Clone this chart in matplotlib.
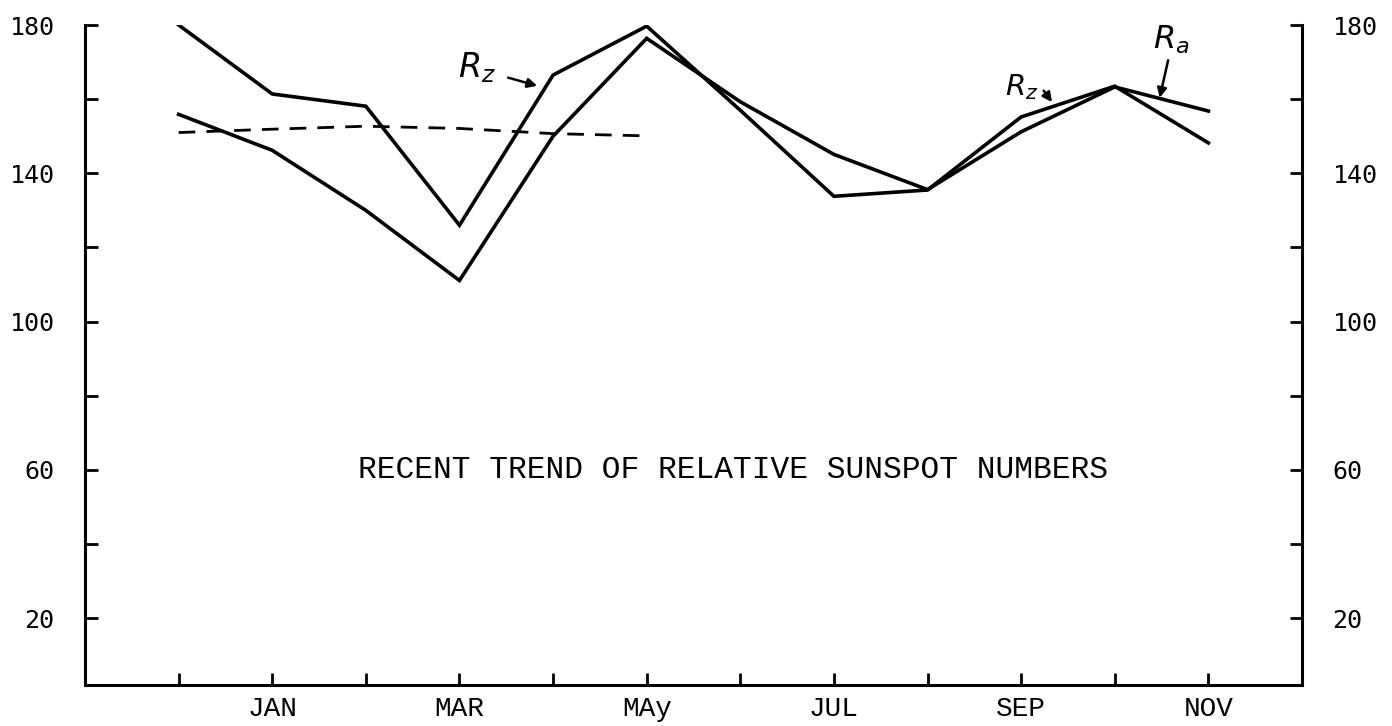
import matplotlib
matplotlib.use("Agg")
import matplotlib.pyplot as plt

# ---- data ----
months = ["DEC", "JAN", "FEB", "MAR", "APR", "MAY", "JUN", "JUL", "AUG", "SEP", "OCT", "NOV"]
month_labels = ["", "JAN", "", "MAR", "", "MAy", "", "JUL", "", "SEP", "", "NOV"]
rz = [180.0, 161.4, 158.1, 126.0, 166.5, 179.7, 157.0, 133.8, 135.5, 155.2, 163.5, 148.2]
ra = [155.9, 146.2, 130.0, 111.1, 150.0, 176.4, 159.3, 145.1, 135.6, 151.2, 163.3, 156.8]
smooth_months = ["DEC", "JAN", "FEB", "MAR", "APR", "MAY"]
smooth = [151.0, 151.9, 152.7, 152.1, 150.7, 150.1]
ytick_vals = [20, 40, 60, 80, 100, 120, 140, 160, 180]
ytick_labels = ["20", "", "60", "", "100", "", "140", "", "180"]
title = "RECENT TREND OF RELATIVE SUNSPOT NUMBERS"

x = list(range(len(months)))
xs = list(range(len(smooth_months)))

fig = plt.figure(figsize=(13.92, 7.26), dpi=100)
ax = fig.add_axes([85/1392, 1 - 685/726, (1302-85)/1392, (685-25)/726])

lw = 2.6
ax.plot(x, rz, color="black", lw=lw, solid_joinstyle="miter")
ax.plot(x, ra, color="black", lw=lw, solid_joinstyle="miter")
ax.plot(xs, smooth, color="black", lw=2.0, linestyle=(0, (6, 4)))

ax.set_xlim(-1, 12)
ax.set_ylim(2, 180)

ax.spines["top"].set_visible(False)
for s in ["left", "right", "bottom"]:
    ax.spines[s].set_linewidth(2.2)

ax.set_xticks(x)
ax.set_xticklabels(month_labels, fontfamily="Liberation Mono", fontsize=20)
ax.set_yticks(ytick_vals)
ax.set_yticklabels(ytick_labels, fontfamily="DejaVu Sans Mono", fontsize=18)
ax.tick_params(axis="x", direction="in", length=9, width=2, pad=8)
ax.tick_params(axis="y", direction="in", length=9, width=2, pad=22,
               left=True, right=True, labelleft=True, labelright=True)

ax.text(5.92, 60, title, fontfamily="Liberation Mono", fontsize=22.5,
        ha="center", va="center")

# annotations
arrow = dict(arrowstyle="-|>", lw=1.8, color="black", shrinkA=0, shrinkB=0,
             mutation_scale=14)
ax.text(3.19, 168.5, r"$R_z$", fontsize=24, ha="center", va="center")
ax.annotate("", xy=(3.83, 163.6), xytext=(3.52, 165.8), arrowprops=arrow)
ax.text(9.0, 163.3, r"$R_z$", fontsize=21, ha="center", va="center")
ax.annotate("", xy=(9.33, 159.2), xytext=(9.24, 162.3), arrowprops=arrow)
ax.text(10.6, 176.0, r"$R_a$", fontsize=23, ha="center", va="center")
ax.annotate("", xy=(10.48, 160.4), xytext=(10.57, 170.5), arrowprops=arrow)

fig.savefig("out.png", dpi=100, facecolor="white")
